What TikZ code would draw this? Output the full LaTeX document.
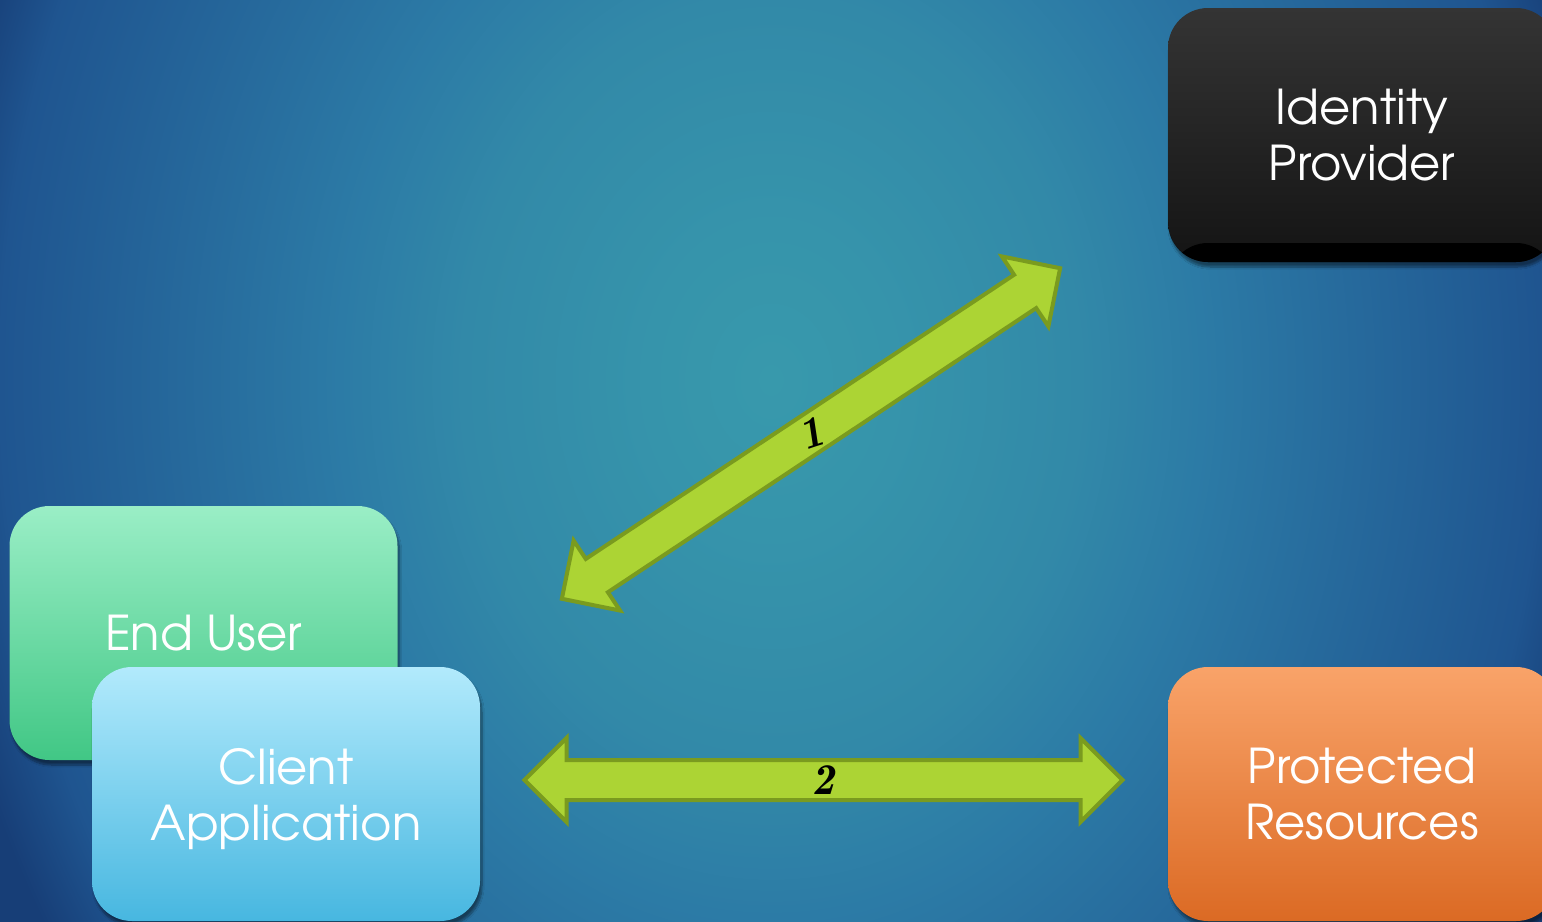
\documentclass[tikz,border=0pt]{standalone}
\usepackage{fontspec}
\setmainfont{TeX Gyre Adventor}
\usetikzlibrary{shapes.arrows,shadows.blur}
\definecolor{bg0}{HTML}{3899AC}
\definecolor{bg1}{HTML}{3694AB}
\definecolor{bg2}{HTML}{3289A8}
\definecolor{bg3}{HTML}{2C7BA6}
\definecolor{bg4}{HTML}{25669A}
\definecolor{bg5}{HTML}{1F5590}
\definecolor{bg6}{HTML}{173E77}
\definecolor{idtop}{HTML}{343434}
\definecolor{idbot}{HTML}{141414}
\definecolor{eutop}{HTML}{9AEEC6}
\definecolor{eubot}{HTML}{41C785}
\definecolor{catop}{HTML}{B2EAFC}
\definecolor{cabot}{HTML}{47B7E0}
\definecolor{prtop}{HTML}{F9A369}
\definecolor{prbot}{HTML}{DB6A24}
\definecolor{arrowfill}{HTML}{ACD434}
\definecolor{arrowline}{HTML}{7A9B1F}
\pgfdeclareradialshading{bgglow}{\pgfpoint{0bp}{0bp}}{color(0bp)=(bg0); color(4bp)=(bg1); color(10bp)=(bg2); color(14bp)=(bg3); color(20bp)=(bg4); color(25bp)=(bg5); color(27.5bp)=(bg6); color(40bp)=(bg6)}
\begin{document}
\begin{tikzpicture}[x=1pt,y=-1pt,
  box/.style={rounded corners=40pt, minimum width=388pt, minimum height=254pt,
    align=center, text=white, inner sep=0pt,
    font=\fontsize{48}{56}\selectfont,
    blur shadow={shadow xshift=2pt, shadow yshift=-5pt, shadow opacity=45, shadow blur steps=8}},
  dblarrow/.style={double arrow, double arrow head extend=22pt, inner xsep=0pt, inner ysep=18pt,
    minimum height=598pt, fill=arrowfill, draw=arrowline, line width=4pt},
  lbl/.style={text=black, inner sep=0pt, font={\fontsize{44}{44}\fontfamily{lmr}\bfseries\itshape\selectfont}}]
\useasboundingbox (0,0) rectangle (1542,921);
\clip (0,0) rectangle (1542,921);
\shade[shading=bgglow] (0,-580) rectangle (1542,1340);

\node[box, top color=idtop, bottom color=idbot,
  path picture={\fill[black] ([yshift=19pt]path picture bounding box.south west) rectangle (path picture bounding box.south east);}]
  (idp) at (1362,135) {Identity\\Provider};
\node[box, top color=eutop, bottom color=eubot] (eu) at (203.5,633) {End User};
\node[box, top color=catop, bottom color=cabot, text depth=0pt] (ca) at (286,794) {Client\\Application};
\node[box, top color=prtop, bottom color=prbot, text depth=0pt] (pr) at (1362,794) {Protected\\Resources};

\node[dblarrow, rotate=33.56] (a1) at (811,433.5) {};
\node[dblarrow] (a2) at (823.5,780) {};
\node[lbl, rotate=18] (l1) at (a1.center) {1};
\node[lbl] (l2) at (a2.center) {2};
\end{tikzpicture}
\end{document}
